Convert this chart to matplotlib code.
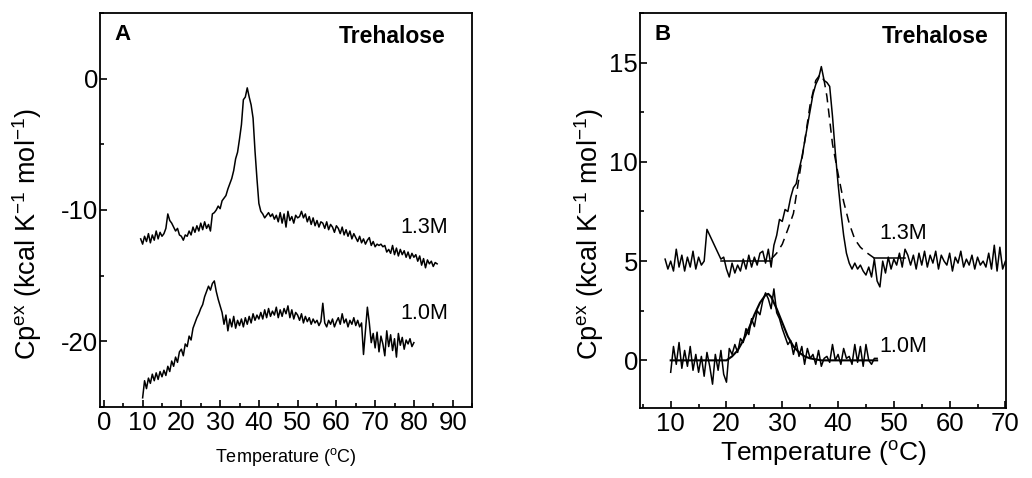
import matplotlib
matplotlib.use("Agg")
import matplotlib.pyplot as plt
from matplotlib.ticker import MultipleLocator

plt.rcParams['font.family'] = ['Liberation Sans', 'DejaVu Sans']
plt.rcParams['mathtext.fontset'] = 'custom'
plt.rcParams['mathtext.rm'] = 'Liberation Sans'
plt.rcParams['mathtext.it'] = 'Liberation Sans:italic'
plt.rcParams['axes.unicode_minus'] = False

# ---------------- Panel A data ----------------
T_A13 = [9.5,10,10.5,11,11.5,12,12.5,13,13.5,14,14.5,15,15.5,16,16.5,17,17.5,18,18.5,19,
         19.5,20,20.5,21,21.5,22,22.5,23,23.5,24,24.5,25,25.5,26,26.5,27,27.5,28,28.5,29,
         29.5,30,30.5,31,31.5,32,32.5,33,33.5,34,34.5,35,35.5,36,36.5,37,37.5,38,38.5,39,
         39.5,40,40.5,41,41.5,42,42.5,43,43.5,44,44.5,45,45.5,46,46.5,47,47.5,48,48.5,49,
         49.5,50,50.5,51,51.5,52,52.5,53,53.5,54,54.5,55,55.5,56,56.5,57,57.5,58,58.5,59,
         59.5,60,60.5,61,61.5,62,62.5,63,63.5,64,64.5,65,65.5,66,66.5,67,67.5,68,68.5,69,
         69.5,70,70.5,71,71.5,72,72.5,73,73.5,74,74.5,75,75.5,76,76.5,77,77.5,78,78.5,79,
         79.5,80,80.5,81,81.5,82,82.5,83,83.5,84,84.5,85,85.5,86]
Cp_A13 = [-12.2,-12.6,-12.0,-12.4,-11.8,-12.5,-11.9,-12.3,-11.6,-12.2,-11.7,-12.0,
          -11.8,-11.4,-10.3,-10.8,-11.0,-11.3,-11.6,-11.4,-11.9,-12.0,-12.3,-11.9,
          -12.0,-11.6,-11.9,-11.3,-11.7,-11.2,-11.6,-11.0,-11.5,-10.9,-11.4,-11.1,-11.6,-10.3,
          -10.2,-10.0,-9.7,-9.9,-9.3,-9.1,-8.9,-8.4,-8.0,-7.6,
          -7.0,-6.1,-5.6,-4.6,-3.5,-1.6,-1.4,-0.7,
          -1.4,-2.0,-3.0,-5.5,-7.6,-9.5,-10.1,-10.3,-10.6,
          -10.4,-10.2,-10.5,-10.3,-10.7,-10.4,-10.9,-10.2,-11.0,-10.3,-11.3,-10.1,-10.8,-10.5,-11.0,-10.4,-10.6,
          -10.5,-10.1,-10.6,-10.3,-10.9,-10.5,-11.1,-10.6,-11.2,-10.8,-11.3,-10.9,-11.0,-11.4,-10.9,-11.5,-11.1,-11.3,-11.7,-11.2,
          -11.4,-11.8,-11.3,-11.9,-11.5,-12.0,-11.6,-12.2,-11.8,-12.1,-12.4,-12.0,-12.5,-12.2,-12.6,-12.3,-12.1,-12.7,-12.4,-12.8,
          -12.6,-12.7,-12.6,-12.8,-12.7,-13.2,-13.0,-13.3,-12.7,-13.4,-12.9,-13.5,-13.0,-13.4,-13.1,-13.6,
          -13.2,-13.7,-13.3,-13.6,-13.4,-13.9,-13.5,-14.2,-13.7,-14.4,-13.8,-14.1,-13.9,-14.3,-14.0,-14.1]

T_A10 = [10,10.5,11,11.5,12,12.5,13,13.5,14,14.5,15,15.5,16,16.5,17,17.5,18,18.5,19,19.5,
         20,20.5,21,21.5,22,22.5,23,23.5,24,24.5,25,25.5,26,26.5,27,27.5,28,28.5,29,29.5,
         30,30.5,31,31.5,32,32.5,33,33.5,34,34.5,35,35.5,36,36.5,37,37.5,38,38.5,39,39.5,
         40,40.5,41,41.5,42,42.5,43,43.5,44,44.5,45,45.5,46,46.5,47,47.5,48,48.5,49,49.5,
         50,50.5,51,51.5,52,52.5,53,53.5,54,54.5,55,55.5,56,56.5,57,57.5,58,58.5,59,59.5,
         60,60.5,61,61.5,62,62.5,63,63.5,64,64.5,65,65.5,66,66.5,67,67.5,68,68.5,69,69.5,
         70,70.5,71,71.5,72,72.5,73,73.5,74,74.5,75,75.5,76,76.5,77,77.5,78,78.5,79,79.5,80]
Cp_A10 = [-24.3,-23.0,-23.6,-22.8,-23.2,-22.5,-23.0,-22.4,-22.9,-22.3,-22.7,
          -22.2,-22.6,-21.9,-22.3,-21.5,-21.9,-21.2,-21.6,-20.8,-20.6,
          -21.1,-20.2,-20.4,-19.6,-19.9,-19.0,-18.6,-18.2,-17.9,-17.5,
          -17.2,-16.6,-16.2,-15.8,-16.1,-15.6,-15.4,-16.2,-16.8,-17.3,
          -17.8,-18.7,-18.0,-19.2,-18.3,-18.9,-18.1,-19.0,-18.4,-18.8,
          -18.3,-18.9,-18.2,-18.7,-18.1,-18.6,-17.9,-18.4,-18.0,-18.3,
          -17.8,-18.3,-17.6,-18.2,-17.5,-18.1,-17.7,-18.0,-17.4,-18.2,
          -17.6,-18.1,-17.5,-17.9,-17.3,-18.2,-17.6,-18.3,-17.8,-18.0,
          -18.4,-17.9,-18.6,-18.1,-18.5,-18.2,-18.7,-18.3,-18.6,-18.4,
          -18.8,-18.5,-17.1,-18.6,-18.9,-18.4,-18.7,-18.3,-18.9,-18.5,
          -18.2,-18.7,-17.9,-18.6,-18.3,-18.9,-18.4,-18.7,-18.2,-18.8,
          -18.4,-18.9,-18.6,-21.0,-19.2,-17.4,-18.6,-20.1,-19.4,-20.5,
          -19.3,-20.8,-19.6,-20.2,-21.1,-19.2,-20.4,-19.5,-20.7,-19.8,
          -21.2,-19.4,-20.3,-19.7,-20.6,-19.9,-20.2,-19.8,-20.4,-20.1]

# ---------------- Panel B data ----------------
T_B13 = [9,9.5,10,10.5,11,11.5,12,12.5,13,13.5,14,14.5,15,15.5,16,16.5,
         19,19.5,20,20.5,21,21.5,22,22.5,23,23.5,24,24.5,25,25.5,26,26.5,27,27.5,28,
         28.5,29,29.5,30,30.5,31,31.5,32,32.5,33,33.5,34,34.5,35,35.5,36,36.5,37,37.5,38,
         38.5,39,39.5,40,40.5,41,41.5,42,
         42.5,43,43.5,44,44.5,45,45.5,46,46.5,47,47.5,48,48.5,49,49.5,50,50.5,51,51.5,52,
         52.5,53,53.5,54,54.5,55,55.5,56,56.5,57,57.5,58,58.5,59,59.5,60,60.5,61,61.5,62,
         62.5,63,63.5,64,64.5,65,65.5,66,66.5,67,67.5,68,68.5,69,69.5,70]
Cp_B13 = [5.1,4.6,5.0,4.5,5.6,4.7,5.3,4.5,5.2,4.7,5.5,4.6,5.2,4.8,5.0,6.6,
          5.1,5.2,4.6,4.2,4.9,4.4,4.8,4.5,5.1,4.6,5.3,4.7,5.2,4.8,5.4,5.5,4.9,5.6,4.7,
          5.8,6.3,7.1,7.0,7.6,7.5,8.2,8.7,8.9,9.6,10.2,11.0,11.8,12.6,13.4,13.9,14.2,14.8,14.1,14.0,
          13.8,12.3,10.5,8.9,7.5,6.3,5.4,4.9,
          4.6,4.9,4.6,4.8,4.5,4.3,4.7,4.2,5.1,4.0,3.7,5.0,4.4,5.2,4.6,5.1,4.8,5.4,4.7,5.6,
          5.3,4.8,5.3,4.6,5.4,4.8,5.5,4.7,5.3,4.9,5.5,4.6,5.3,5.0,4.8,5.4,4.5,5.2,4.9,5.5,
          4.7,5.1,4.8,5.3,4.6,5.2,4.8,5.0,4.7,5.4,4.6,5.8,4.5,5.7,4.6,5.0]

# fit for 1.3M: flat baselines (solid) and transition peak (dashed)
T_B13_base1 = [19, 28]
Cp_B13_base1 = [5.0, 5.0]
T_B13_base2 = [46.5, 52]
Cp_B13_base2 = [5.15, 5.15]
T_B13_fit = [28, 29, 30, 31, 32, 33, 34, 35, 36, 36.8, 37.5, 38, 39, 40, 41, 42, 43, 44, 45, 46, 46.5]
Cp_B13_fit = [5.1, 5.4, 5.85, 6.6, 7.4, 9.2, 11.0, 12.9, 14.1, 14.4, 14.1, 13.3, 10.9, 9.4, 8.0, 6.9,
              6.1, 5.7, 5.45, 5.25, 5.15]

T_B10 = [10,10.5,11,11.5,12,12.5,13,13.5,14,14.5,15,15.5,16,16.5,17,17.5,18,18.5,19,19.5,
         20,20.5,21,21.5,22,22.5,23,23.5,24,24.5,25,25.5,26,26.5,27,27.5,28,28.5,29,29.5,
         30,30.5,31,31.5,32,32.5,33,33.5,34,34.5,35,35.5,36,36.5,37,37.5,38,38.5,39,39.5,
         40,40.5,41,41.5,42,42.5,43,43.5,44,44.5,45,45.5,46,46.5,47]
Cp_B10 = [-0.6,0.7,-0.2,0.9,-0.4,0.5,-0.3,0.7,-0.5,0.3,-0.6,0.2,-0.8,0.4,-0.3,-1.2,0.3,-0.5,0.5,-0.7,
          -1.1,0.6,0.3,0.8,0.4,1.1,0.9,1.6,1.3,2.1,1.7,2.5,2.3,3.0,3.4,3.1,2.6,3.6,2.4,2.1,
          1.6,1.2,0.8,1.0,0.3,0.9,0.2,0.7,-0.2,0.6,0.1,0.3,-0.2,0.5,-0.3,0.1,0.2,-0.1,0.8,0.0,
          0.3,-0.2,0.6,0.1,0.2,-0.2,0.8,-0.1,0.7,-0.3,0.8,0.0,-0.2,0.1,0.1]

T_B10_fit = [10, 20, 21, 22, 23, 24, 25, 26, 27, 27.5, 28, 29, 30, 31, 32, 33, 34, 35, 36, 37, 47]
Cp_B10_fit = [0.0, 0.0, 0.2, 0.5, 1.0, 1.6, 2.3, 2.9, 3.3, 3.35, 3.2, 2.6, 1.9, 1.2, 0.7, 0.4, 0.2, 0.1, 0.05, 0.0, 0.0]

W, H = 1032, 478
fig = plt.figure(figsize=(W / 100, H / 100), dpi=100)

axA = fig.add_axes([100 / W, 1 - 407 / H, 372 / W, 394 / H])
axB = fig.add_axes([640 / W, 1 - 408 / H, 366 / W, 395 / H])

lw = 1.1
axA.plot(T_A13, Cp_A13, color='black', lw=lw)
axA.plot(T_A10, Cp_A10, color='black', lw=lw)

axB.plot(T_B13, Cp_B13, color='black', lw=lw)
axB.plot(T_B13_base1, Cp_B13_base1, color='black', lw=lw)
axB.plot(T_B13_base2, Cp_B13_base2, color='black', lw=lw)
axB.plot(T_B13_fit, Cp_B13_fit, color='black', lw=lw, ls=(0, (6, 4)))
axB.plot(T_B10, Cp_B10, color='black', lw=lw)
axB.plot(T_B10_fit, Cp_B10_fit, color='black', lw=1.5)

axA.set_xlim(-1, 95)
axA.set_ylim(-25, 5)
axA.xaxis.set_major_locator(MultipleLocator(10))
axA.xaxis.set_minor_locator(MultipleLocator(5))
axA.yaxis.set_major_locator(MultipleLocator(10))
axA.yaxis.set_minor_locator(MultipleLocator(5))

axB.set_xlim(4.5, 70.1)
axB.set_ylim(-2.4, 17.5)
axB.xaxis.set_major_locator(MultipleLocator(10))
axB.xaxis.set_minor_locator(MultipleLocator(5))
axB.yaxis.set_major_locator(MultipleLocator(5))
axB.yaxis.set_minor_locator(MultipleLocator(2.5))

ylab = r'Cp$^{\mathrm{ex}}$ (kcal K$^{\mathrm{-1}}$ mol$^{\mathrm{-1}}$)'
for ax in (axA, axB):
    for s in ax.spines.values():
        s.set_linewidth(1.3)
    ax.tick_params(which='both', direction='in', top=False, right=False, width=1.2)
    ax.tick_params(which='major', length=5, labelsize=18.5)
    ax.tick_params(which='minor', length=3)
    ax.tick_params(axis='x', which='major', pad=3)
    ax.tick_params(axis='y', which='major', pad=1.5)
    ax.set_ylabel(ylab, fontsize=19.5, va='center')

axA.yaxis.set_label_coords(-0.195, 0.44)
axB.yaxis.set_label_coords(-0.14, 0.44)

axA.set_xlabel(r'Temperature ($^{\mathrm{o}}$C)', fontsize=13)
axA.xaxis.set_label_coords(0.5, -0.1)
axB.set_xlabel(r'Temperature ($^{\mathrm{o}}$C)', fontsize=19)
axB.xaxis.set_label_coords(0.5, -0.078)

axA.text(0.04, 0.945, 'A', transform=axA.transAxes, fontsize=16, fontweight='bold', va='center', ha='left')
axA.text(0.93, 0.94, 'Trehalose', transform=axA.transAxes, fontsize=16.5, fontweight='bold', va='center', ha='right')
axB.text(0.04, 0.945, 'B', transform=axB.transAxes, fontsize=16, fontweight='bold', va='center', ha='left')
axB.text(0.952, 0.94, 'Trehalose', transform=axB.transAxes, fontsize=16.5, fontweight='bold', va='center', ha='right')

axA.text(76.5, -11.3, '1.3M', fontsize=15.5, va='center', ha='left')
axA.text(76.5, -17.9, '1.0M', fontsize=15.5, va='center', ha='left')
axB.text(47.4, 6.4, '1.3M', fontsize=15.5, va='center', ha='left')
axB.text(47.4, 0.7, '1.0M', fontsize=15.5, va='center', ha='left')

fig.savefig('out.png', dpi=100)
